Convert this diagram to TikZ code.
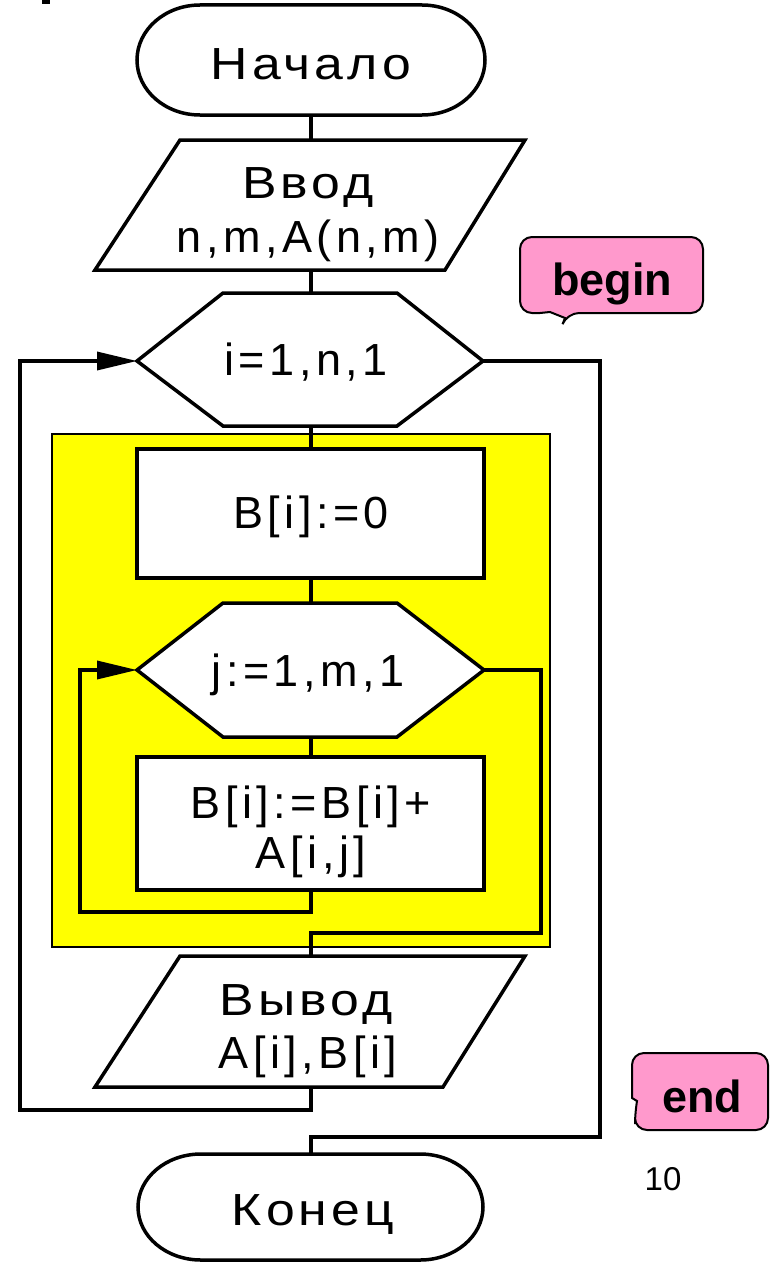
\documentclass[tikz,border=0pt]{standalone}
\usepackage{fontspec}
\setmainfont{Liberation Sans}
\newfontfamily\fcfont{Liberation Sans}[LetterSpace=10]
\newfontfamily\fcwide{Liberation Sans}[LetterSpace=9, FakeStretch=1.15]
\usetikzlibrary{arrows.meta}
\definecolor{calloutpink}{HTML}{FF99CC}
\definecolor{bgyellow}{HTML}{FFFF00}
\begin{document}
\begin{tikzpicture}[x=1pt,y=-1pt,
  shapeline/.style={draw=black, line width=3.5pt, fill=white, line join=miter},
  conn/.style={draw=black, line width=3.5pt},
  fctext/.style={font=\fcfont\fontsize{45}{54}\selectfont, anchor=base, inner sep=0pt},
  cyrtext/.style={font=\fcwide\fontsize{45}{54}\selectfont, anchor=base, inner sep=0pt},
  arr/.style={-{Triangle[length=40pt,width=18pt]}},
  callout/.style={fill=calloutpink, draw=black, line width=2pt}]
\useasboundingbox (0,0) rectangle (770,1263);
% fragment of cut-off title
\fill[black] (42,0) rectangle (50,4);
% yellow background of the loop body
\draw[fill=bgyellow, draw=black, line width=1.5pt] (52,434) rectangle (550,947);
% named coordinates
\coordinate (startB) at (311,115);
\coordinate (inT) at (311,140);  \coordinate (inB) at (311,270);
\coordinate (hiT) at (311,293);  \coordinate (hiB) at (311,426);
\coordinate (hiL) at (137,361);  \coordinate (hiR) at (483,361);
\coordinate (r1T) at (311,449);  \coordinate (r1B) at (311,578);
\coordinate (hjT) at (311,603);  \coordinate (hjB) at (311,737);
\coordinate (hjL) at (137,670);  \coordinate (hjR) at (484,670);
\coordinate (r2T) at (311,757);  \coordinate (r2B) at (311,890);
\coordinate (outT) at (311,956); \coordinate (outB) at (311,1087);
\coordinate (endT) at (311,1154);
% shapes
\draw[shapeline] (200,5) -- (422,5) arc[start angle=90,end angle=-90,x radius=63pt,y radius=55pt]
  -- (200,115) arc[start angle=270,end angle=90,x radius=63pt,y radius=55pt] -- cycle;
\draw[shapeline] (180,140) -- (525,140) -- (445,270) -- (95,270) -- cycle;
\draw[shapeline] (hiL) -- (223,293) -- (397,293) -- (hiR) -- (397,426) -- (223,426) -- cycle;
\draw[shapeline] (137,449) rectangle (484,578);
\draw[shapeline] (hjL) -- (223,603) -- (397,603) -- (hjR) -- (397,737) -- (223,737) -- cycle;
\draw[shapeline] (137,757) rectangle (484,890);
\draw[shapeline] (180,956) -- (525,956) -- (443,1087) -- (95,1087) -- cycle;
\draw[shapeline] (201,1154) -- (420,1154) arc[start angle=90,end angle=-90,x radius=63pt,y radius=53pt]
  -- (201,1260) arc[start angle=270,end angle=90,x radius=63pt,y radius=53pt] -- cycle;
% connectors
\draw[conn] (startB) -- (inT);
\draw[conn] (inB) -- (hiT);
\draw[conn] (hiB) -- (r1T);
\draw[conn] (r1B) -- (hjT);
\draw[conn] (hjB) -- (r2T);
\draw[conn,arr] (r2B) -- (311,912) -| (80,670) -- (hjL);
\draw[conn] (hjR) -- (541,670) |- (311,933) -- (outT);
\draw[conn,arr] (outB) -- (311,1110) -| (20,361) -- (hiL);
\draw[conn] (hiR) -- (600,361) |- (311,1137) -- (endT);
% texts
\node[cyrtext] (tStart) at (311,79) {Начало};
\node[cyrtext] (tIn1) at (308,198) {Ввод};
\node[fctext] (tIn2) at (308,252) {n,m,A(n,m)};
\node[fctext] (tI) at (306,375) {i=1,n,1};
\node[fctext] (tB0) at (311,528) {B[i]:=0};
\node[fctext] (tJ) at (308,686) {j:=1,m,1};
\node[fctext] (tS1) at (311,818) {B[i]:=B[i]+};
\node[fctext] (tS2) at (311,868) {A[i,j]};
\node[cyrtext] (tOut1) at (306,1015) {Вывод};
\node[fctext] (tOut2) at (308,1068) {A[i],B[i]};
\node[cyrtext] (tEnd) at (313,1225) {Конец};
% callouts
\draw[callout] (540,313) [rounded corners=12pt] -- (520,313) -- (520,237) -- (703,237) -- (703,313) -- (567,313)
  [sharp corners] -- (565,318) -- (550,312) -- cycle;
\node[font=\bfseries\fontsize{45}{54}\selectfont, anchor=base, inner sep=0pt] (tBegin) at (612,295) {begin};
\draw[callout] (632,1098) [rounded corners=12pt] -- (632,1053) -- (768,1053) -- (768,1130) -- (635,1130) -- (635,1112)
  [sharp corners] -- (637,1101) -- cycle;
\node[font=\bfseries\fontsize{45}{54}\selectfont, anchor=base, inner sep=0pt] (tEndC) at (702,1112) {end};
\node[font=\fontsize{33}{40}\selectfont, anchor=base, inner sep=0pt] (tPage) at (663,1190) {10};
\end{tikzpicture}
\end{document}
